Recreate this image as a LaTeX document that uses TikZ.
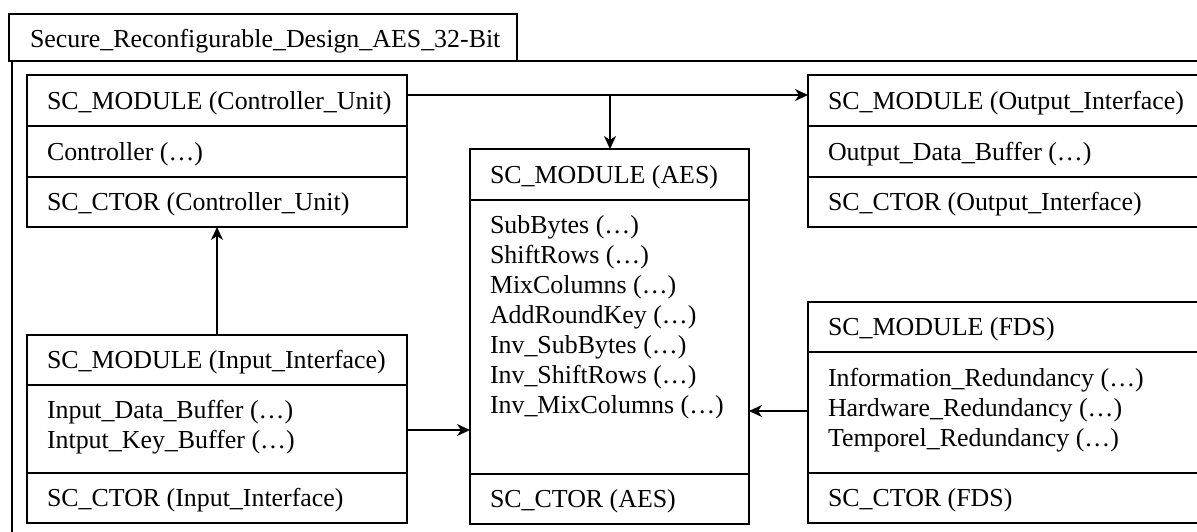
\documentclass[tikz,border=0pt]{standalone}
\usepackage{fontspec}
\setmainfont{Liberation Serif}
\usetikzlibrary{arrows.meta}
\begin{document}
\begin{tikzpicture}[x=1pt,y=-1pt,
  box/.style={draw,line width=1.5pt,inner sep=0pt,outer sep=0pt,anchor=north west},
  txt/.style={anchor=base west,inner sep=0pt,outer sep=0pt,font=\fontsize{25.9}{30}\selectfont},
  sepline/.style={line width=1.5pt},
  conn/.style={line width=1.5pt,-{Stealth[length=13pt,width=12pt,inset=4pt]}}]
\useasboundingbox (0,0) rectangle (1197,531);
\clip (0,0) rectangle (1197,531);
% outer frame and title tab
\node[box,minimum width=1210pt,minimum height=490pt] (frame) at (12,61) {};
\node[box,fill=white,minimum width=508pt,minimum height=47pt] (tab) at (9,14) {};
\node[txt] (title) at (30,47) {Secure\_Reconfigurable\_Design\_AES\_32-Bit};
% Controller_Unit
\node[box,minimum width=380pt,minimum height=152pt] (ctrl) at (27,75) {};
\draw[sepline] (27,126) -- (407,126);
\draw[sepline] (27,177) -- (407,177);
\node[txt] (c1) at (47,109) {SC\_MODULE (Controller\_Unit)};
\node[txt] (c2) at (47,160) {Controller (…)};
\node[txt] (c3) at (47,210) {SC\_CTOR (Controller\_Unit)};
% Output_Interface
\node[box,minimum width=400pt,minimum height=152pt] (out) at (808,75) {};
\draw[sepline] (808,126) -- (1210,126);
\draw[sepline] (808,177) -- (1210,177);
\node[txt] (o1) at (828,109) {SC\_MODULE (Output\_Interface)};
\node[txt] (o2) at (828,160) {Output\_Data\_Buffer (…)};
\node[txt] (o3) at (828,210) {SC\_CTOR (Output\_Interface)};
% AES
\node[box,minimum width=279pt,minimum height=375pt] (aes) at (470,149) {};
\draw[sepline] (470,200) -- (749,200);
\draw[sepline] (470,474) -- (749,474);
\node[txt] (a0) at (490,183) {SC\_MODULE (AES)};
\node[txt] (a1) at (490,233) {SubBytes (…)};
\node[txt] (a2) at (490,263) {ShiftRows (…)};
\node[txt] (a3) at (490,293) {MixColumns (…)};
\node[txt] (a4) at (490,323) {AddRoundKey (…)};
\node[txt] (a5) at (490,353) {Inv\_SubBytes (…)};
\node[txt] (a6) at (490,383) {Inv\_ShiftRows (…)};
\node[txt] (a7) at (490,413) {Inv\_MixColumns (…)};
\node[txt] (a8) at (490,507) {SC\_CTOR (AES)};
% Input_Interface
\node[box,minimum width=380pt,minimum height=188pt] (inp) at (27,335) {};
\draw[sepline] (27,385) -- (407,385);
\draw[sepline] (27,473) -- (407,473);
\node[txt] (i1) at (47,368) {SC\_MODULE (Input\_Interface)};
\node[txt] (i2) at (47,418) {Input\_Data\_Buffer (…)};
\node[txt] (i3) at (47,448) {Intput\_Key\_Buffer (…)};
\node[txt] (i4) at (47,506) {SC\_CTOR (Input\_Interface)};
% FDS
\node[box,minimum width=400pt,minimum height=221pt] (fds) at (808,302) {};
\draw[sepline] (808,352) -- (1210,352);
\draw[sepline] (808,473) -- (1210,473);
\node[txt] (f1) at (828,335) {SC\_MODULE (FDS)};
\node[txt] (f2) at (828,386) {Information\_Redundancy (…)};
\node[txt] (f3) at (828,416) {Hardware\_Redundancy (…)};
\node[txt] (f4) at (828,446) {Temporel\_Redundancy (…)};
\node[txt] (f5) at (828,506) {SC\_CTOR (FDS)};
% connectors
\coordinate (j) at (610,95);
\coordinate (ia) at (0,430);
\coordinate (fa) at (0,411);
\draw[conn] (ctrl.east |- j) -- (out.west |- j);
\draw[conn] (j) -- (j |- aes.north);
\draw[conn] (inp.north) -- (ctrl.south);
\draw[conn] (inp.east |- ia) -- (aes.west |- ia);
\draw[conn] (fds.west |- fa) -- (aes.east |- fa);
\end{tikzpicture}
\end{document}
